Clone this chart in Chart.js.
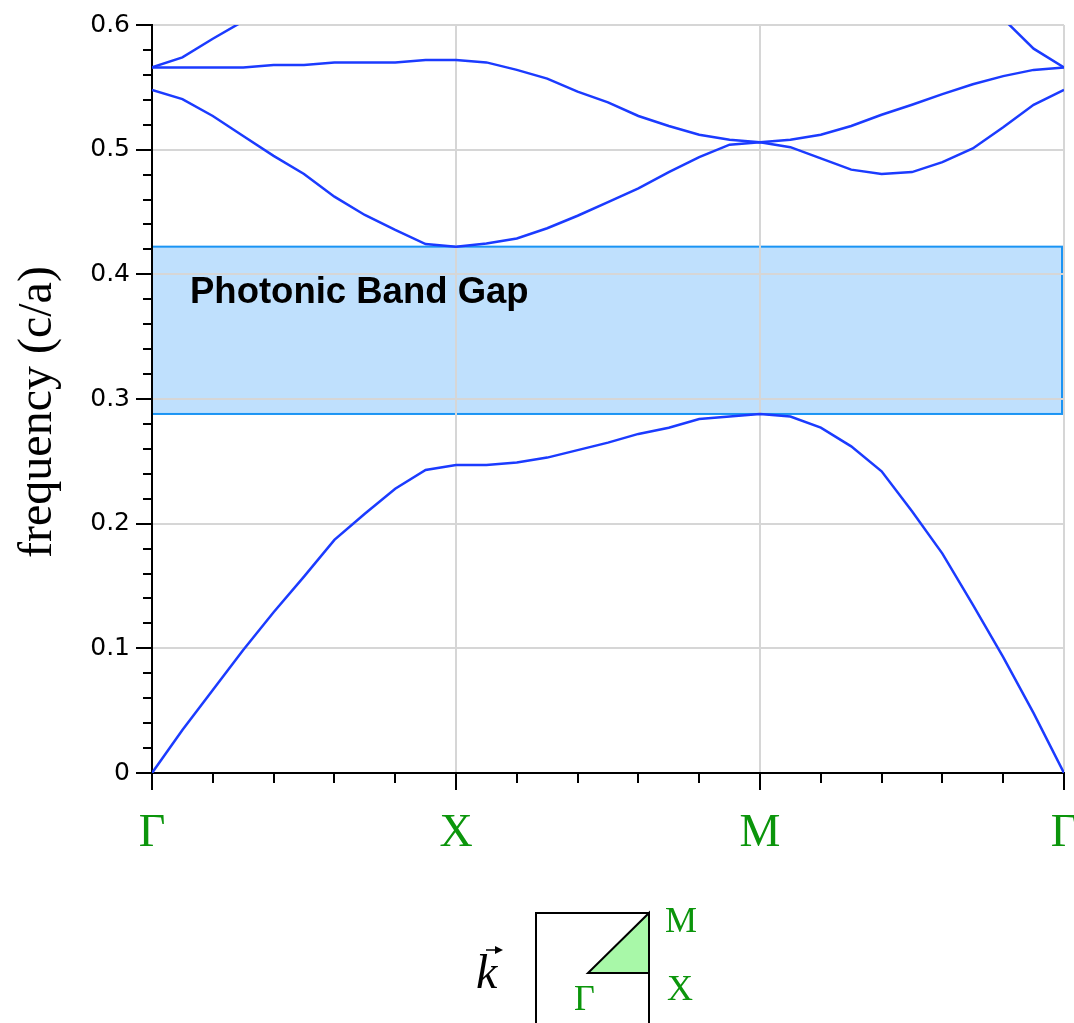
<!DOCTYPE html>
<html>
<head>
<meta charset="utf-8">
<script src="https://cdn.jsdelivr.net/npm/chart.js@4.4.1/dist/chart.umd.min.js"></script>
<style>
  body { margin: 0; background: #fff; }
  canvas { display: block; }
</style>
</head>
<body>
<canvas id="bands" width="1074" height="1023"></canvas>
<script>
// Camino Γ -> X -> M -> Γ (cada tramo = 1 unidad, 10 muestras por tramo)
const kPoints = [0, 0.1, 0.2, 0.3, 0.4, 0.5, 0.6, 0.7, 0.8, 0.9, 1,
    1.1, 1.2, 1.3, 1.4, 1.5, 1.6, 1.7, 1.8, 1.9, 2,
    2.1, 2.2, 2.3, 2.4, 2.5, 2.6, 2.7, 2.8, 2.9, 3];

// Etiquetas de los puntos de simetría
const symmetryLabels = ['Γ', 'X', 'M', 'Γ'];

// Bandas (frecuencia c/a)
const band1 = [0, 0.0345, 0.0666, 0.0987, 0.129, 0.1575, 0.187, 0.208, 0.228, 0.243, 0.247,
    0.247, 0.249, 0.253, 0.259, 0.265, 0.272, 0.277, 0.284, 0.286, 0.288,
    0.286, 0.277, 0.262, 0.242, 0.210, 0.176, 0.135, 0.093, 0.048, 0];
const band2 = [0.548, 0.5406, 0.527, 0.511, 0.495, 0.4805, 0.4623, 0.4476, 0.4356, 0.4243, 0.4222,
    0.4247, 0.4288, 0.437, 0.447, 0.458, 0.469, 0.482, 0.494, 0.504, 0.506,
    0.502, 0.493, 0.484, 0.4805, 0.482, 0.490, 0.501, 0.518, 0.536, 0.548];
const band3 = [0.566, 0.566, 0.566, 0.566, 0.568, 0.568, 0.570, 0.570, 0.570, 0.572, 0.572,
    0.570, 0.564, 0.557, 0.5465, 0.538, 0.527, 0.519, 0.512, 0.508, 0.506,
    0.508, 0.512, 0.519, 0.528, 0.536, 0.5445, 0.5525, 0.559, 0.564, 0.566];
const band4 = [0.566, 0.574, 0.589, 0.603, null, null, null, null, null, null, null,
    null, null, null, null, null, null, null, null, null, null,
    null, null, null, null, null, null, null, 0.605, 0.581, 0.566];

// Banda prohibida [min, max]
const gapRange = [0.288, 0.4222];
const gapText = 'Photonic Band Gap';

const lineColor = '#1b3bff';
const green = '#0b950b';

function toPoints(band) {
    return band.map((v, i) => ({ x: kPoints[i], y: v }));
}

// Caja de la banda prohibida (debajo de la rejilla)
const gapBoxPlugin = {
    id: 'gapBox',
    beforeDraw(chart) {
        const { ctx, scales: { x, y } } = chart;
        const left = x.getPixelForValue(kPoints[0]);
        const right = x.getPixelForValue(kPoints[kPoints.length - 1]) - 2;
        const top = y.getPixelForValue(gapRange[1]);
        const bottom = y.getPixelForValue(gapRange[0]);
        ctx.save();
        ctx.fillStyle = '#bfe0fd';
        ctx.fillRect(left, top, right - left, bottom - top);
        ctx.strokeStyle = '#1a94f4';
        ctx.lineWidth = 2;
        ctx.strokeRect(left, top, right - left, bottom - top);
        ctx.restore();
    }
};

// Marcas menores, título del eje, texto y el esquema de la zona de Brillouin
const extrasPlugin = {
    id: 'extras',
    afterDraw(chart) {
        const { ctx, scales: { x, y } } = chart;
        ctx.save();

        // marcas menores
        ctx.strokeStyle = '#000';
        ctx.lineWidth = 2;
        const x0 = x.getPixelForValue(0);
        const y0 = y.getPixelForValue(0);
        for (let v = 0.02; v < 0.6; v += 0.02) {
            if (Math.abs(v * 10 - Math.round(v * 10)) < 1e-6) continue;
            const py = Math.round(y.getPixelForValue(v));
            ctx.beginPath();
            ctx.moveTo(x0 - 9, py);
            ctx.lineTo(x0, py);
            ctx.stroke();
        }
        for (let v = 0.2; v < 3; v += 0.2) {
            if (Math.abs(v - Math.round(v)) < 1e-6) continue;
            const px = Math.round(x.getPixelForValue(v));
            ctx.beginPath();
            ctx.moveTo(px, y0);
            ctx.lineTo(px, y0 + 10);
            ctx.stroke();
        }

        // texto de la banda prohibida
        ctx.fillStyle = '#000';
        ctx.font = 'bold 36.5px "Liberation Sans", Arial, sans-serif';
        ctx.textAlign = 'left';
        ctx.textBaseline = 'alphabetic';
        ctx.fillText(gapText, x.getPixelForValue(0.125), y.getPixelForValue(0.377));

        // título del eje y
        ctx.save();
        ctx.translate(38, 412);
        ctx.rotate(-Math.PI / 2);
        ctx.font = '48px "Liberation Serif", "Times New Roman", serif';
        ctx.textAlign = 'center';
        ctx.textBaseline = 'middle';
        ctx.fillText('frequency (c/a)', 0, 0);
        ctx.restore();

        // esquema de la zona de Brillouin
        ctx.lineWidth = 2;
        ctx.strokeStyle = '#000';
        ctx.strokeRect(536, 913, 113, 130);
        ctx.beginPath();
        ctx.moveTo(588, 973);
        ctx.lineTo(649, 973);
        ctx.lineTo(649, 913);
        ctx.closePath();
        ctx.fillStyle = '#a8f8a8';
        ctx.fill();
        ctx.stroke();

        ctx.fillStyle = green;
        ctx.font = '36px "Liberation Serif", "Times New Roman", serif';
        ctx.textAlign = 'left';
        ctx.fillText('M', 665, 932);
        ctx.fillText('X', 667, 1000);
        ctx.fillText('Γ', 574, 1010);

        // vector k
        ctx.fillStyle = '#000';
        ctx.font = 'italic 48px "Liberation Serif", "Times New Roman", serif';
        ctx.fillText('k', 476, 988);
        ctx.beginPath();
        ctx.lineWidth = 1.5;
        ctx.moveTo(486, 950);
        ctx.lineTo(501, 950);
        ctx.stroke();
        ctx.beginPath();
        ctx.moveTo(503, 950);
        ctx.lineTo(495, 946);
        ctx.lineTo(495, 954);
        ctx.closePath();
        ctx.fill();

        ctx.restore();
    }
};

const bandStyle = {
    borderColor: lineColor,
    borderWidth: 2.5,
    pointRadius: 0,
    tension: 0,
    fill: false,
    spanGaps: false
};

new Chart(document.getElementById('bands'), {
    type: 'line',
    data: {
        datasets: [
            { label: 'band1', data: toPoints(band1), ...bandStyle },
            { label: 'band2', data: toPoints(band2), ...bandStyle },
            { label: 'band3', data: toPoints(band3), ...bandStyle },
            { label: 'band4', data: toPoints(band4), ...bandStyle }
        ]
    },
    options: {
        responsive: false,
        animation: false,
        devicePixelRatio: 1,
        layout: {
            autoPadding: false,
            padding: { left: 0, top: 25, right: 10, bottom: 150 }
        },
        plugins: {
            legend: { display: false },
            tooltip: { enabled: false }
        },
        scales: {
            x: {
                type: 'linear',
                min: 0,
                max: 3,
                afterFit: (scale) => {
                    scale.height = 100;
                    scale.paddingLeft = 0;
                    scale.paddingRight = 0;
                },
                ticks: {
                    stepSize: 1,
                    padding: 16,
                    color: green,
                    font: { family: '"Liberation Serif", "Times New Roman", serif', size: 46 },
                    callback: (value) => Number.isInteger(value) ? symmetryLabels[value] : ''
                },
                grid: {
                    color: '#d6d6d6',
                    lineWidth: 2,
                    tickColor: '#000',
                    tickLength: 17,
                    tickWidth: 2
                },
                border: { color: '#000', width: 2 }
            },
            y: {
                type: 'linear',
                min: 0,
                max: 0.6,
                afterFit: (scale) => {
                    scale.width = 152;
                    scale.paddingTop = 0;
                    scale.paddingBottom = 0;
                },
                ticks: {
                    stepSize: 0.1,
                    padding: 6,
                    color: '#000',
                    font: { family: '"DejaVu Sans", sans-serif', size: 25 },
                    callback: (value) => {
                        const v = Math.round(value * 10) / 10;
                        return v === 0 ? '0' : v.toFixed(1);
                    }
                },
                grid: {
                    color: '#d6d6d6',
                    lineWidth: 2,
                    tickColor: '#000',
                    tickLength: 16,
                    tickWidth: 2
                },
                border: { color: '#000', width: 2 }
            }
        }
    },
    plugins: [gapBoxPlugin, extrasPlugin]
});
</script>
</body>
</html>
